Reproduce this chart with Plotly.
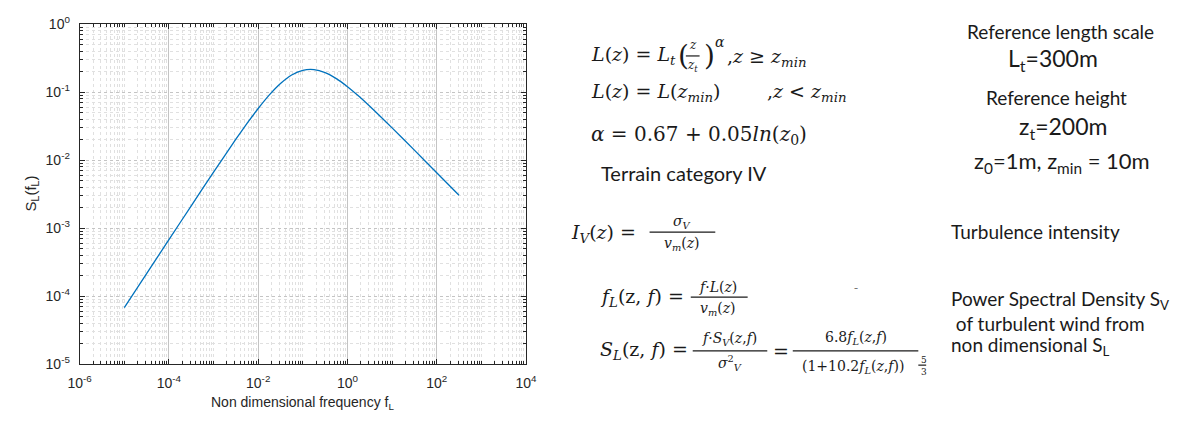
import numpy as np
import plotly.graph_objects as go

W, H = 1202, 421

# Non-dimensional von Karman spectrum
f_L = [1e-5, 3.16e-5, 1e-4, 3.16e-4, 1e-3, 3.16e-3, 5.62e-3, 1e-2, 1.78e-2,
       3.16e-2, 5.62e-2, 1e-1, 1.78e-1, 3.16e-1, 5.62e-1, 1.0, 1.78, 3.16,
       10.0, 31.6, 100.0, 316.0]
S_L = [6.8e-5, 2.15e-4, 6.79e-4, 2.14e-3, 6.69e-3, 2.04e-2, 3.48e-2, 5.78e-2,
       9.17e-2, 1.35e-1, 1.80e-1, 2.11e-1, 2.16e-1, 1.95e-1, 1.59e-1, 1.21e-1,
       8.81e-2, 6.25e-2, 3.00e-2, 1.41e-2, 6.56e-3, 3.06e-3]

x_major = [1e-6, 1e-4, 1e-2, 1e0, 1e2, 1e4]
x_major_text = ["10<sup>-6</sup>", "10<sup>-4</sup>", "10<sup>-2</sup>",
                "10<sup>0</sup>", "10<sup>2</sup>", "10<sup>4</sup>"]
y_major = [1e-5, 1e-4, 1e-3, 1e-2, 1e-1, 1e0]
y_major_text = ["10<sup>-5</sup>", "10<sup>-4</sup>", "10<sup>-3</sup>",
                "10<sup>-2</sup>", "10<sup>-1</sup>", "10<sup>0</sup>"]

# minor grid: every 2..9 step of each decade, plus the unlabelled decades on x
x_minor = [k * 10.0 ** d for d in range(-6, 4) for k in range(2, 10)] + \
          [10.0 ** d for d in range(-5, 4, 2)]
y_minor = [k * 10.0 ** d for d in range(-5, 0) for k in range(2, 10)]

# plot box in pixels
L, R, T, B = 69, 524, 15, 370


def px(x):
    return x / W


def py(y):
    return 1 - y / H


fig = go.Figure()
fig.add_trace(go.Scatter(x=f_L, y=S_L, mode="lines",
                         line=dict(color="#0072BD", width=1.3, shape="spline", smoothing=0.6),
                         showlegend=False, hoverinfo="skip"))

AX = "Liberation Sans, Arial, sans-serif"
tick_font = dict(family=AX, size=14, color="#262626")
grid_major = "#c4c4c4"
grid_minor = "#e0e0e0"

fig.update_xaxes(type="log", range=[-6, 4], domain=[px(L), px(R)],
                 tickmode="array", tickvals=x_major, ticktext=x_major_text,
                 ticks="inside", ticklen=5, tickcolor="#262626", tickfont=tick_font,
                 ticklabelstandoff=6,
                 showline=True, linecolor="#262626", linewidth=1, mirror="allticks",
                 showgrid=True, gridcolor=grid_major, gridwidth=1,
                 minor=dict(tickmode="array", tickvals=x_minor, ticks="inside", ticklen=3,
                            tickcolor="#262626", showgrid=True, gridcolor=grid_minor,
                            griddash="dot", gridwidth=1),
                 zeroline=False, fixedrange=True)
fig.update_yaxes(type="log", range=[-5, 0], domain=[py(B), py(T)],
                 tickmode="array", tickvals=y_major, ticktext=y_major_text,
                 ticks="inside", ticklen=5, tickcolor="#262626", tickfont=tick_font,
                 ticklabelstandoff=6,
                 showline=True, linecolor="#262626", linewidth=1, mirror="allticks",
                 showgrid=True, gridcolor=grid_major, gridwidth=1, griddash="dot",
                 minor=dict(tickmode="array", tickvals=y_minor, ticks="inside", ticklen=3,
                            tickcolor="#262626", showgrid=True, gridcolor=grid_minor,
                            griddash="dot", gridwidth=1),
                 zeroline=False, fixedrange=True)

ann = []
shapes = []
MATH = "DejaVu Serif, serif"
SANS = "Lato, 'Open Sans', sans-serif"


def text(x, y, s, size=19, family=MATH, anchor="left", color="#1a1a1a"):
    ann.append(dict(x=px(x), y=py(y), xref="paper", yref="paper", text=s, showarrow=False,
                    xanchor=anchor, yanchor="middle",
                    font=dict(family=family, size=size, color=color)))


def bar(x0, x1, y):
    shapes.append(dict(type="line", xref="paper", yref="paper", x0=px(x0), x1=px(x1),
                       y0=py(y), y1=py(y), line=dict(color="#1a1a1a", width=1.2)))


# axis titles
text((L + R) / 2, 411, "Non dimensional frequency f<sub>L</sub>", size=14,
     family=AX, anchor="center", color="#262626")
ann.append(dict(x=px(20), y=py(192), xref="paper", yref="paper",
                text="S<sub>L</sub>(f<sub>L</sub>)", showarrow=False, textangle=-90,
                xanchor="center", yanchor="middle",
                font=dict(family=AX, size=15, color="#262626")))

# length scale law
text(588, 48, "<i>L</i>(<i>z</i>) = <i>L<sub>t</sub></i>")
text(677, 48, "(", size=28)
text(694, 37, "<i>z</i>", size=12, anchor="center")
bar(687, 701, 48)
text(694, 58, "<i>z<sub>t</sub></i>", size=12, anchor="center")
text(703, 48, ")", size=28)
text(715, 33, "<i>α</i>", size=14)
text(727, 50, ",<i>z</i> ≥ <i>z<sub>min</sub></i>")
text(588, 86, "<i>L</i>(<i>z</i>) = <i>L</i>(<i>z<sub>min</sub></i>)")
text(768, 86, ",<i>z</i> &lt; <i>z<sub>min</sub></i>")
text(588, 131, "<i>α</i> = 0.67 + 0.05<i>ln</i>(<i>z</i><sub>0</sub>)", size=20)
text(598, 170, "Terrain category IV", size=20, family=SANS)

# turbulence intensity
text(568, 233, "<i>I<sub>V</sub></i>(<i>z</i>) =")
text(683, 221, "<i>σ<sub>V</sub></i>", size=14, anchor="center")
bar(650, 717, 232)
text(683, 244, "<i>v<sub>m</sub></i>(<i>z</i>)", size=14, anchor="center")

# non-dimensional frequency
text(597, 300, "<i>f<sub>L</sub></i>(z, <i>f</i>) =")
text(720, 289, "<i>f</i>·<i>L</i>(<i>z</i>)", size=14, anchor="center")
bar(692, 750, 300)
text(720, 312, "<i>v<sub>m</sub></i>(<i>z</i>)", size=14, anchor="center")
text(860, 290, "-", size=12, anchor="center", color="#777777")

# spectral density
text(597, 356, "<i>S<sub>L</sub></i>(z, <i>f</i>) =")
text(732, 344, "<i>f</i>·<i>S<sub>V</sub></i>(<i>z</i>,<i>f</i>)", size=14, anchor="center")
bar(694, 770, 356)
text(732, 369, "<i>σ</i><sup>2</sup><sub><i>V</i></sub>", size=14, anchor="center")
text(774, 356, "=")
text(860, 343, "6.8<i>f<sub>L</sub></i>(<i>z</i>,<i>f</i>)", size=14, anchor="center")
bar(796, 924, 356)
text(857, 373, "(1+10.2<i>f<sub>L</sub></i>(<i>z</i>,<i>f</i>))", size=14, anchor="center")
text(925, 366, "5", size=9)
bar(924, 932, 371)
text(925, 378, "3", size=9)

# parameter notes
text(1069, 22, "Reference length scale", size=19, family=SANS, anchor="center")
text(1061, 52, "L<sub>t</sub>=300m", size=23, family=SANS, anchor="center")
text(1065, 91, "Reference height", size=19, family=SANS, anchor="center")
text(1071, 123, "z<sub>t</sub>=200m", size=23, family=SANS, anchor="center")
text(1070, 159, "z<sub>0</sub>=1m, z<sub>min</sub> = 10m", size=22, family=SANS, anchor="center")
text(955, 231, "Turbulence intensity", size=19, family=SANS)
text(955, 303, "Power Spectral Density S<sub>V</sub>", size=19, family=SANS)
text(955, 327, " of turbulent wind from", size=19, family=SANS)
text(955, 351, "non dimensional S<sub>L</sub>", size=19, family=SANS)

fig.update_layout(width=W, height=H, margin=dict(l=0, r=0, t=0, b=0),
                  paper_bgcolor="white", plot_bgcolor="white",
                  annotations=ann, shapes=shapes, showlegend=False)

fig.write_html("out.html")
